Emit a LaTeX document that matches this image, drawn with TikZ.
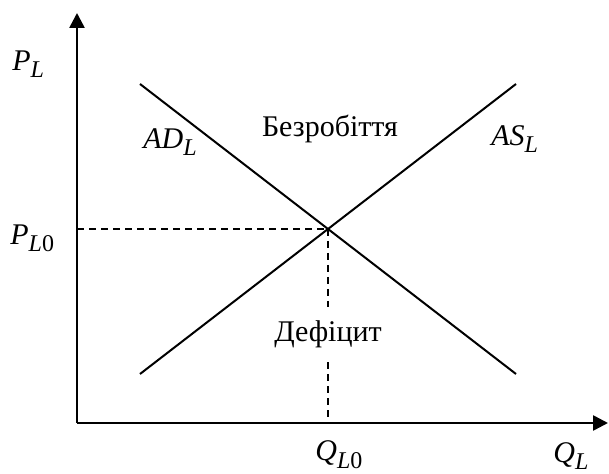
\documentclass[tikz,border=0pt]{standalone}
\usepackage{fontspec}
\setmainfont{Liberation Serif}
\usepackage{tikz}
\usetikzlibrary{arrows.meta,positioning}
\definecolor{ink}{HTML}{000000}
\newcommand{\lbl}[2]{\textit{#1}\raisebox{-3.5pt}{\fontsize{12}{13}\selectfont#2}}
\tikzset{
  axis/.style={-{Triangle[length=7.5pt,width=7.5pt]},line width=1.3pt,ink},
  curve/.style={line width=1pt,ink},
  guide/.style={line width=0.9pt,ink,dash pattern=on 3.5pt off 2.5pt},
  tag/.style={inner sep=0pt,font=\fontsize{15}{17}\selectfont},
}
\begin{document}
\begin{tikzpicture}[x=0.5pt,y=-0.5pt]
  \useasboundingbox (0,0) rectangle (609,474);
  % axes
  \coordinate (o) at (77,423);
  \coordinate (ytop) at (77,13);
  \coordinate (xend) at (608,423);
  \draw[axis] (o) -- (ytop);
  \draw[axis] (o) -- (xend);

  % demand and supply
  \coordinate (ad1) at (140,84);
  \coordinate (ad2) at (516,374);
  \coordinate (as1) at (140,374);
  \coordinate (as2) at (516,84);
  \coordinate (eq) at (328,229);
  \draw[curve] (ad1) -- (ad2);
  \draw[curve] (as1) -- (as2);

  % labels
  \node[tag,anchor=base west](pl) at (12,71){\lbl{P}{\textit{L}}};
  \node[tag,anchor=base west](pl0) at (10,245){\lbl{P}{\textit{L}0}};
  \node[tag,anchor=base west](ql0) at (315,461){\lbl{Q}{\textit{L}0}};
  \node[tag,anchor=base west](ql) at (553,463){\lbl{Q}{\textit{L}}};
  \node[tag,anchor=base west](adl) at (143,149){\lbl{AD}{\textit{L}}};
  \node[tag,anchor=base west](asl) at (491,146){\lbl{AS}{\textit{L}}};
  \node[tag,anchor=base](unemp) at (330,137){Безробіття};
  \node[tag,minimum height=27.5pt](def) at (328,334.5){Дефіцит};

  % equilibrium guides
  \coordinate (p0) at (77,229);
  \coordinate (q0) at (328,423);
  \draw[guide] (p0) -- (eq);
  \draw[guide] (eq) -- (def.north);
  \draw[guide] (def.south) -- (q0);
\end{tikzpicture}
\end{document}
